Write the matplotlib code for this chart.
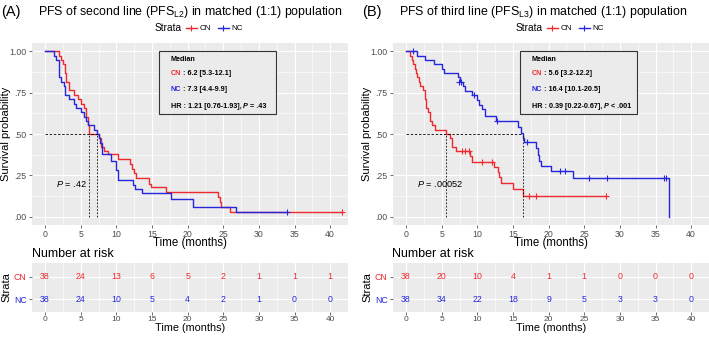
import matplotlib
matplotlib.use('Agg')
import matplotlib.pyplot as plt
from matplotlib.patches import Rectangle
from matplotlib.lines import Line2D

plt.rcParams['font.family'] = ['Liberation Sans', 'DejaVu Sans']
plt.rcParams['mathtext.fontset'] = 'custom'
plt.rcParams['mathtext.rm'] = 'Liberation Sans'
plt.rcParams['mathtext.it'] = 'Liberation Sans:italic'
plt.rcParams['mathtext.bf'] = 'Liberation Sans:bold'

RED = '#EE2A2E'
BLUE = '#2626DC'
BG = '#EBEBEB'
W, H = 709, 338

# ---- panel A: PFS of second line ----
a_cn_t = [0, 1.9, 2.2, 2.5, 2.8, 3.0, 3.3, 4.0, 4.6, 5.0, 5.4, 5.7, 6.0, 6.2, 7.5, 7.9, 8.3, 8.8,
          10.3, 11.9, 12.2, 12.5, 12.8, 14.6, 14.9, 16.9, 24.3, 24.5, 24.7, 26.0, 41.7]
a_cn_s = [1, .974, .947, .921, .868, .816, .763, .737, .711, .684, .658, .605, .553, .5, .474, .421, .395, .38,
          .35, .316, .289, .263, .234, .2, .18, .147, .118, .092, .059, .026, .026]
a_nc_t = [0, 1.3, 1.6, 1.9, 2.0, 2.2, 2.6, 2.8, 3.4, 4.0, 4.4, 5.0, 5.4, 5.8, 6.0, 6.8, 7.3, 7.5, 7.7,
          8.0, 9.3, 9.9, 10.3, 12.3, 12.6, 13.6, 17.6, 20.8, 26.8, 34.0]
a_nc_s = [1, .974, .947, .895, .842, .816, .789, .737, .711, .684, .658, .632, .605, .579, .553, .526, .5, .474, .447,
          .38, .335, .28, .224, .194, .168, .143, .109, .059, .026, .026]
a_cens_cn_t, a_cens_cn_s = [41.7], [.026]
a_cens_nc_t, a_cens_nc_s = [34.0], [.026]
a_median = {'CN': 6.2, 'NC': 7.3}
a_box = ['6.2 [5.3-12.1]', '7.3 [4.4-9.9]', '1.21 [0.76-1.93]', '.43']
a_p = '.42'
a_risk_cn = [38, 24, 13, 6, 5, 2, 1, 1, 1]
a_risk_nc = [38, 24, 10, 5, 4, 2, 1, 0, 0]

# ---- panel B: PFS of third line ----
b_cn_t = [0, 0.5, 0.8, 1.0, 1.2, 1.4, 1.6, 1.8, 2.0, 2.4, 2.6, 2.8, 3.1, 3.3, 3.6, 4.0, 5.6, 6.2, 6.4, 7.0,
          9.0, 9.3, 12.3, 12.9, 13.1, 13.3, 15.0, 16.4, 28.1]
b_cn_s = [1, .974, .947, .921, .895, .868, .842, .816, .789, .763, .711, .658, .632, .579, .553, .526, .5, .474, .421, .40,
          .37, .333, .30, .27, .24, .206, .166, .127, .127]
b_nc_t = [0, 1.6, 2.6, 3.9, 5.1, 5.3, 7.3, 7.6, 8.0, 8.3, 9.3, 10.0, 10.2, 10.7, 11.1, 12.6, 15.7, 16.1, 16.4, 16.6,
          18.3, 18.5, 18.6, 19.0, 20.3, 23.4, 36.85, 36.85]
b_nc_s = [1, .974, .947, .921, .895, .868, .842, .815, .788, .761, .734, .706, .678, .650, .608, .576, .541, .507, .473, .450,
          .413, .375, .338, .306, .277, .232, 0, 0]
b_cens_cn_t = [7.8, 8.3, 8.8, 10.7, 12.0, 17.2, 18.2, 28.1]
b_cens_cn_s = [.40, .40, .40, .333, .333, .127, .127, .127]
b_cens_nc_t = [1.0, 7.4, 7.7, 9.5, 12.7, 16.9, 21.6, 22.3, 25.7, 28.2, 36.2, 36.5]
b_cens_nc_s = [1.0, .815, .815, .734, .576, .450, .277, .277, .232, .232, .232, .232]
b_median = {'CN': 5.6, 'NC': 16.4}
b_box = ['5.6 [3.2-12.2]', '16.4 [10.1-20.5]', '0.39 [0.22-0.67]', '< .001']
b_p = '.00052'
b_risk_cn = [38, 20, 10, 4, 1, 1, 0, 0, 0]
b_risk_nc = [38, 34, 22, 18, 9, 5, 3, 3, 0]

risk_times = [0, 5, 10, 15, 20, 25, 30, 35, 40]
xticks = [0, 5, 10, 15, 20, 25, 30, 35, 40]
yticks = [0, .25, .5, .75, 1.0]
ylabels = ['.00', '.25', '.50', '.75', '1.00']


def fpos(px0, py0, px1, py1):
    return [px0 / W, 1 - py1 / H, (px1 - px0) / W, (py1 - py0) / H]


def gg_axes(ax):
    ax.set_facecolor(BG)
    for s in ax.spines.values():
        s.set_visible(False)
    ax.set_xlim(-1.9, 42.1)
    ax.set_xticks(xticks)
    ax.set_xticks([x + 2.5 for x in xticks[:-1]] + [42.5], minor=True)
    ax.grid(True, which='major', color='white', lw=0.8)
    ax.grid(True, which='minor', color='white', lw=0.4)
    ax.set_axisbelow(True)
    ax.tick_params(which='major', length=2, width=0.5, color='#333333', labelsize=6.3,
                   labelcolor='#4d4d4d', pad=1.5)
    ax.tick_params(which='minor', length=0)


def chain_text(ax, x, y, parts, size=5.2):
    t = None
    for s, c, style in parts:
        kw = dict(color=c, fontsize=size, fontweight='bold', fontstyle=style)
        if t is None:
            t = ax.text(x, y, s, va='center', ha='left', **kw)
        else:
            t = ax.annotate(s, xy=(1, 0), xycoords=t, va='bottom', ha='left', **kw)


def panel(x0, label, title, cn_t, cn_s, nc_t, nc_s, ccn_t, ccn_s, cnc_t, cnc_s, med, box, p, rcn, rnc):
    x1 = x0 + 316.5
    fig.text((x0 - 30) / W, 1 - 12 / H, label, fontsize=10.5, va='center', ha='left')
    fig.text((x0 + 6.5) / W, 1 - 12 / H, title, fontsize=8.9, va='center', ha='left')

    # legend
    cx = (x0 + x1) / 2
    fig.text((cx - 8) / W, 1 - 28 / H, 'Strata', fontsize=7.3, ha='right', va='center')
    for dx, col, name in [(-4, RED, 'CN'), (28, BLUE, 'NC')]:
        fig.add_artist(Line2D([(cx + dx) / W, (cx + dx + 11) / W], [1 - 28 / H] * 2, color=col, lw=1,
                              transform=fig.transFigure))
        fig.add_artist(Line2D([(cx + dx + 5.5) / W], [1 - 28 / H], color=col, marker='+', ms=4, mew=0.8,
                              transform=fig.transFigure))
        fig.text((cx + dx + 14) / W, 1 - 28 / H, name, fontsize=5.8, va='center', ha='left')

    ax = fig.add_axes(fpos(x0, 43, x1, 225))
    gg_axes(ax)
    ax.set_ylim(-0.05, 1.05)
    ax.set_yticks(yticks)
    ax.set_yticks([.125, .375, .625, .875], minor=True)
    ax.set_yticklabels(ylabels)
    ax.set_xlabel('Time (months)', fontsize=8.3, labelpad=-1)
    ax.set_ylabel('Survival probability', fontsize=8.0)
    ax.yaxis.set_label_coords(-20.5 / 316.5, 0.5)

    ax.step(cn_t, cn_s, where='post', color=RED, lw=1.0)
    ax.step(nc_t, nc_s, where='post', color=BLUE, lw=1.0)
    ax.plot(ccn_t, ccn_s, '+', color=RED, ms=4, mew=0.8)
    ax.plot(cnc_t, cnc_s, '+', color=BLUE, ms=4, mew=0.8)

    mmax = max(med.values())
    ax.plot([0, mmax], [0.5, 0.5], color='black', ls=(0, (3, 2)), lw=0.6)
    for m in med.values():
        ax.plot([m, m], [0, 0.5], color='black', ls=(0, (2, 2)), lw=0.6)

    ax.text(1.5, 0.2, r'$\it{P}$ = ' + p, fontsize=6.6, ha='left', va='center')

    ax.add_patch(Rectangle((16.05, 0.62), 16.3, 0.38, fc=BG, ec='#333333', lw=0.8, zorder=3))
    ax.text(17.6, 0.95, 'Median', fontsize=5.2, fontweight='bold', va='center', zorder=4)
    chain_text(ax, 17.6, 0.865, [('CN', RED, 'normal'), (' : ' + box[0], 'black', 'normal')])
    chain_text(ax, 17.6, 0.768, [('NC', BLUE, 'normal'), (' : ' + box[1], 'black', 'normal')])
    if box[3].startswith('<'):
        tail = ' ' + box[3]
    else:
        tail = ' = ' + box[3]
    chain_text(ax, 17.6, 0.667, [('HR : ' + box[2] + ', ', 'black', 'normal'), ('P', 'black', 'italic'),
                                 (tail, 'black', 'normal')])

    # risk table
    fig.text(x0 / W, 1 - 254 / H, 'Number at risk', fontsize=9.0, va='center', ha='left')
    rx = fig.add_axes(fpos(x0, 263, x1, 312))
    gg_axes(rx)
    rx.tick_params(axis='x', labelsize=6.0, pad=1)
    rx.set_ylim(0.43, 2.61)
    rx.set_yticks([1, 2])
    rx.set_yticklabels(['NC', 'CN'])
    for tl, col in zip(rx.get_yticklabels(), [BLUE, RED]):
        tl.set_color(col)
    rx.set_xlabel('Time (months)', fontsize=7.8, labelpad=0)
    rx.set_ylabel('Strata', fontsize=8.0)
    rx.yaxis.set_label_coords(-20.5 / 316.5, 0.5)
    for t, a, b in zip(risk_times, rcn, rnc):
        rx.text(t, 2, str(a), color=RED, fontsize=6.3, ha='center', va='center')
        rx.text(t, 1, str(b), color=BLUE, fontsize=6.3, ha='center', va='center')


fig = plt.figure(figsize=(W / 100, H / 100), dpi=100)
panel(31.5, '(A)', r'PFS of second line (PFS$_{\mathrm{L2}}$) in matched (1:1) population',
      a_cn_t, a_cn_s, a_nc_t, a_nc_s, a_cens_cn_t, a_cens_cn_s, a_cens_nc_t, a_cens_nc_s,
      a_median, a_box, a_p, a_risk_cn, a_risk_nc)
panel(392.5, '(B)', r'PFS of third line (PFS$_{\mathrm{L3}}$) in matched (1:1) population',
      b_cn_t, b_cn_s, b_nc_t, b_nc_s, b_cens_cn_t, b_cens_cn_s, b_cens_nc_t, b_cens_nc_s,
      b_median, b_box, b_p, b_risk_cn, b_risk_nc)
fig.savefig('out.png', dpi=100)
